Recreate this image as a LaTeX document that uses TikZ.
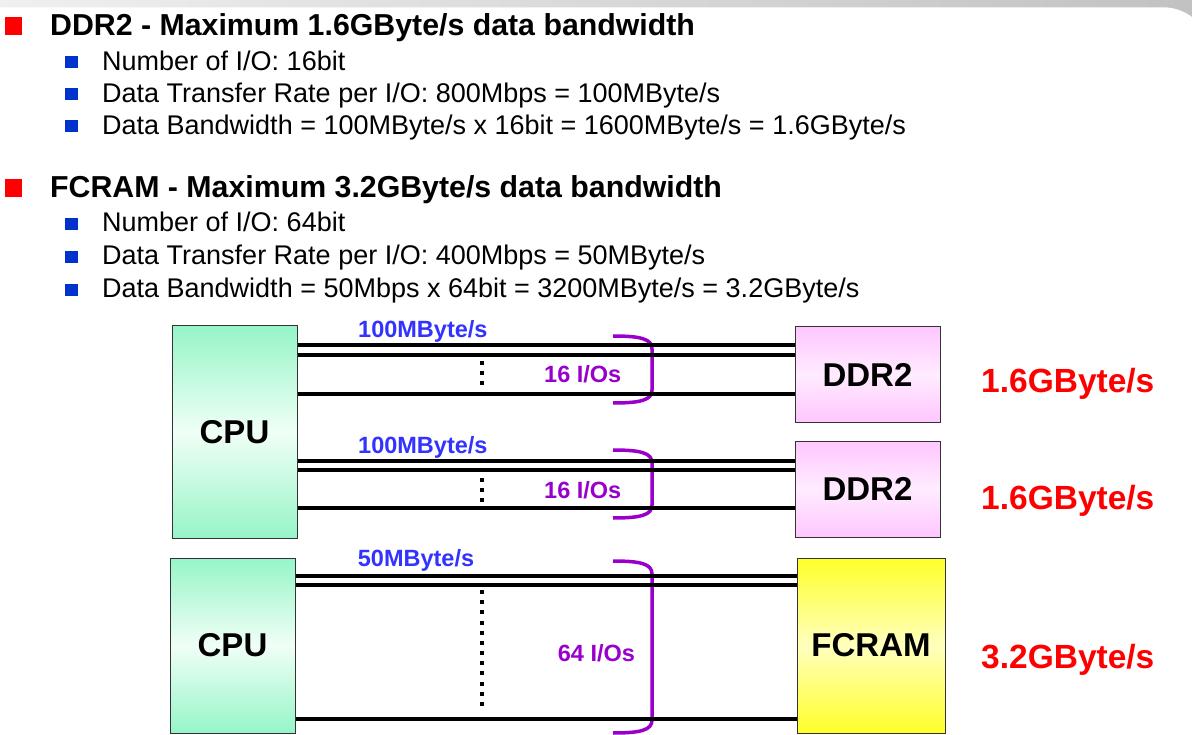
\documentclass[tikz,border=0pt]{standalone}
\usepackage{fontspec}
\setmainfont{Liberation Sans}
\definecolor{cpugreen}{RGB}{150,245,200}
\definecolor{cpulight}{RGB}{240,255,246}
\definecolor{ddrpink}{RGB}{255,198,255}
\definecolor{ddrlight}{RGB}{255,236,255}
\definecolor{fcyellow}{RGB}{255,255,40}
\definecolor{fclight}{RGB}{255,255,190}
\definecolor{rateblue}{RGB}{51,51,255}
\definecolor{iopurple}{RGB}{153,0,204}
\definecolor{bulletblue}{RGB}{0,51,204}

\begin{document}
\begin{tikzpicture}[x=1pt,y=-1pt,
  head/.style={anchor=base west,inner sep=0pt,font=\fontsize{30.3}{36}\selectfont\bfseries},
  item/.style={anchor=base west,inner sep=0pt,font=\fontsize{27}{32}\selectfont},
  hbullet/.style={fill=red,inner sep=0pt,minimum width=17pt,minimum height=18pt},
  sbullet/.style={fill=bulletblue,inner sep=0pt,minimum width=13pt,minimum height=12pt},
  chip/.style={draw=black!80,line width=1pt,inner sep=0pt,shading angle=-45,
    font=\fontsize{33}{40}\selectfont\bfseries},
  cpu/.style={chip,top color=cpugreen,bottom color=cpugreen,middle color=cpulight},
  ddr/.style={chip,top color=ddrpink,bottom color=ddrpink,middle color=ddrlight,
    minimum width=145pt,minimum height=95pt},
  fcram/.style={chip,top color=fcyellow,bottom color=fcyellow,middle color=fclight},
  bus/.style={line width=4pt},
  iodots/.style={line width=4pt,dash pattern=on 4pt off 6pt},
  brace/.style={draw=iopurple,line width=3.5pt},
  rate/.style={anchor=base west,inner sep=0pt,text=rateblue,font=\fontsize{23.5}{28}\selectfont\bfseries},
  ios/.style={anchor=base west,inner sep=0pt,text=iopurple,font=\fontsize{23.5}{28}\selectfont\bfseries},
  total/.style={anchor=base west,inner sep=0pt,text=red,font=\fontsize{33.5}{40}\selectfont\bfseries}]
\useasboundingbox (0,0) rectangle (1192,735);
\fill[left color=black!6,right color=black!24] (0,0) rectangle (1192,60);
\fill[white,rounded corners=48pt] (-100,7.3) rectangle (1211,900);

\node[hbullet] (hb1) at (13.5,26) {};
\node[hbullet] (hb2) at (13.5,188) {};
\foreach \b [count=\i] in {70.5,102.5,134.5,232,265,298}
  \node[sbullet] (sb\i) at (71.5,\b-8.3) {};

\node[head] (ddrhead) at (50,36) {DDR2 - Maximum 1.6GByte/s data bandwidth};
\node[item] (ddrio) at (102,70.5) {Number of I/O: 16bit};
\node[item] (ddrrate) at (102,102.5) {Data Transfer Rate per I/O: 800Mbps = 100MByte/s};
\node[item] (ddrbw) at (102,134.5) {Data Bandwidth = 100MByte/s x 16bit = 1600MByte/s = 1.6GByte/s};
\node[head] (fchead) at (50,198) {FCRAM - Maximum 3.2GByte/s data bandwidth};
\node[item] (fcio) at (102,232) {Number of I/O: 64bit};
\node[item] (fcrate) at (102,265) {Data Transfer Rate per I/O: 400Mbps = 50MByte/s};
\node[item] (fcbw) at (102,298) {Data Bandwidth = 50Mbps x 64bit = 3200MByte/s = 3.2GByte/s};

\node[cpu,minimum width=125pt,minimum height=212pt] (cpuA) at (234.5,432) {CPU};
\node[ddr] (ddrA) at (867.5,374.5) {DDR2};
\node[ddr,minimum height=96pt] (ddrB) at (867.5,489) {DDR2};
\node[cpu,minimum width=125pt,minimum height=175pt] (cpuB) at (232.5,645.5) {CPU};
\node[fcram,minimum width=148pt,minimum height=175pt] (fcram) at (871,645.5) {FCRAM};

\foreach \t/\bb in {336/403,450/518,561/733}
  \draw[brace] (613,\t) .. controls (641,\t) and (652,\t+3) .. (652,\t+13)
    -- (652,\bb-13) .. controls (652,\bb-3) and (641,\bb) .. (613,\bb);

\foreach \yy in {345,355,393.7}
  \draw[bus] (cpuA.east |- 0,\yy) -- (ddrA.west |- 0,\yy);
\foreach \yy in {460.7,470,508.3}
  \draw[bus] (cpuA.east |- 0,\yy) -- (ddrB.west |- 0,\yy);
\foreach \yy in {575.7,585,719.3}
  \draw[bus] (cpuB.east |- 0,\yy) -- (fcram.west |- 0,\yy);

\draw[iodots] (481.7,361) -- (481.7,385);
\draw[iodots] (481.7,478) -- (481.7,502);
\draw[iodots,dash pattern=on 4pt off 6.18pt] (481.7,590) -- (481.7,706);

\node[rate] (rateA) at (358,338) {100MByte/s};
\node[ios] (iosA) at (544,383) {16 I/Os};
\node[rate] (rateB) at (358,453) {100MByte/s};
\node[ios] (iosB) at (544,498) {16 I/Os};
\node[rate] (rateC) at (357.7,566) {50MByte/s};
\node[ios] (iosC) at (557.7,661.5) {64 I/Os};

\node[total] (totA) at (981,392) {1.6GByte/s};
\node[total] (totB) at (981,509) {1.6GByte/s};
\node[total] (totC) at (981,668) {3.2GByte/s};
\end{tikzpicture}
\end{document}
